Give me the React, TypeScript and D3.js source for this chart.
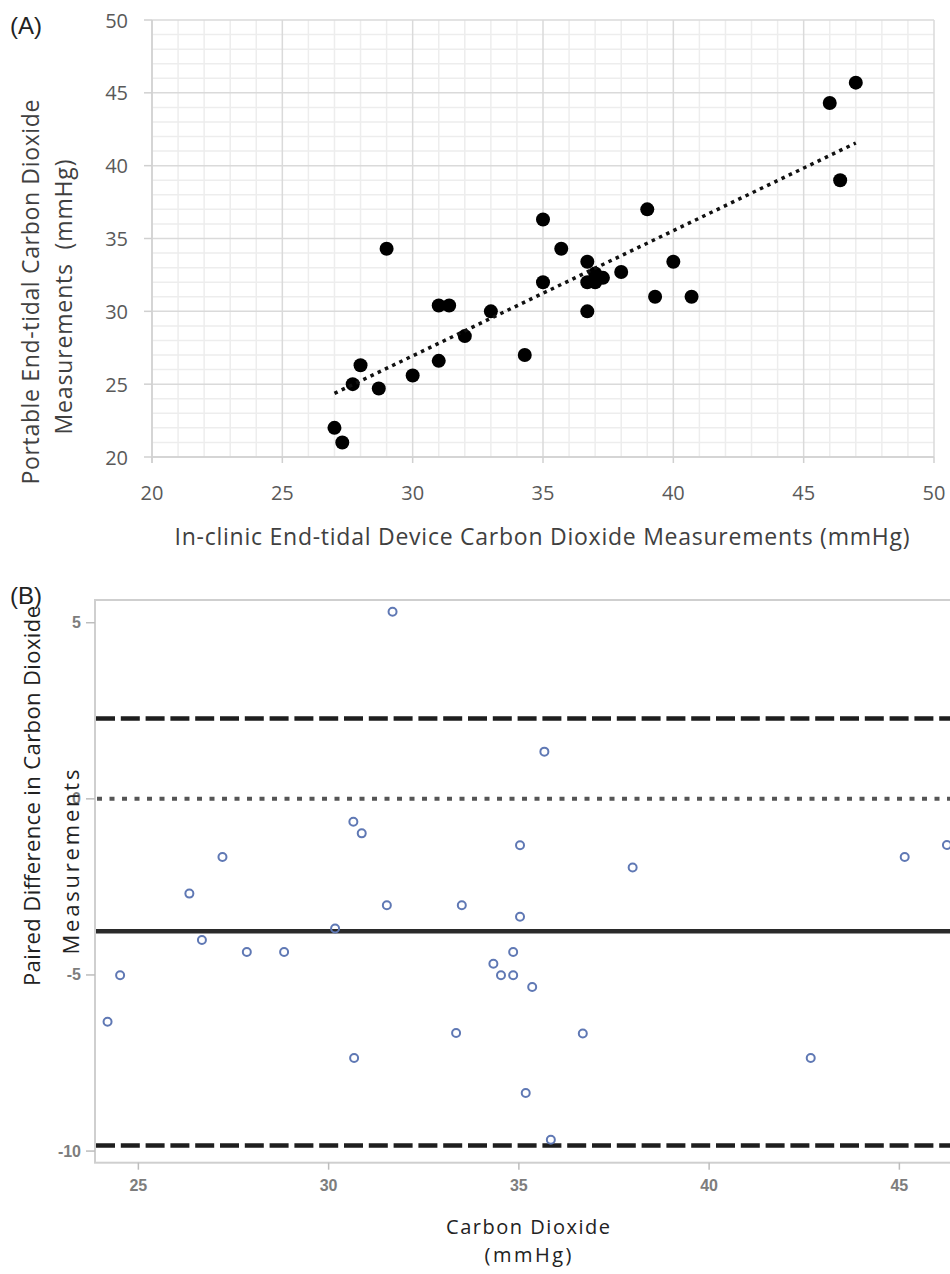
import React from 'react';
import * as d3 from 'd3';

// (A) in-clinic vs portable end-tidal CO2 (mmHg)
const inClinic = [27.0, 27.3, 27.7, 28.0, 28.7, 29.0, 30.0, 31.0, 31.4, 31.0, 32.0, 33.0, 34.3, 35.0, 35.0, 35.7, 36.7, 36.7, 36.7, 37.0, 37.0, 37.3, 38.0, 39.0, 39.3, 40.0, 40.7, 46.0, 46.4, 47.0];
const portable = [22.0, 21.0, 25.0, 26.3, 24.7, 34.3, 25.6, 30.4, 30.4, 26.6, 28.3, 30.0, 27.0, 36.3, 32.0, 34.3, 33.4, 32.0, 30.0, 32.6, 32.0, 32.3, 32.7, 37.0, 31.0, 33.4, 31.0, 44.3, 39.0, 45.7];
const ticksA = [20, 25, 30, 35, 40, 45, 50];

// (B) Bland-Altman: mean of the two devices vs paired difference
const meanCO2 = [31.68, 30.65, 30.87, 27.21, 35.67, 35.03, 37.99, 45.14, 46.25, 26.34, 31.53, 33.5, 30.17, 26.67, 27.85, 28.83, 24.52, 24.19, 30.67, 33.35, 35.03, 34.85, 34.33, 34.53, 34.85, 35.35, 36.68, 42.67, 35.18, 35.84];
const pairedDiff = [5.31, -0.65, -0.98, -1.65, 1.34, -1.32, -1.95, -1.65, -1.31, -2.69, -3.02, -3.02, -3.68, -4.01, -4.35, -4.35, -5.01, -6.33, -7.36, -6.65, -3.35, -4.35, -4.68, -5.01, -5.01, -5.34, -6.66, -7.36, -8.35, -9.68];
const xTicksB = [25, 30, 35, 40, 45];
const yTicksB = [5, 0, -5, -10];
const limitsB = [2.28, -9.84]; // limits of agreement
const biasB = [-3.76];
const zeroB = [0];

const titleFont = '"Open Sans", sans-serif';
const armFont = '"Liberation Sans", Arial, sans-serif';

function PanelA() {
  const x = d3.scaleLinear().domain([20, 50]).range([152, 934]);
  const y = d3.scaleLinear().domain([20, 50]).range([457, 20]);
  const minor = d3.range(20, 51, 1).filter((v) => v % 5 !== 0);

  // least squares trend line
  const mx = d3.mean(inClinic)!;
  const my = d3.mean(portable)!;
  const sxy = d3.sum(inClinic, (v, i) => (v - mx) * (portable[i] - my));
  const sxx = d3.sum(inClinic, (v) => (v - mx) * (v - mx));
  const slope = sxy / sxx;
  const icpt = my - slope * mx;
  const [x0, x1] = d3.extent(inClinic) as [number, number];

  return (
    <g>
      <text x={10} y={34} fontFamily={armFont} fontSize={24} fill="#222">(A)</text>
      {minor.map((v) => (
        <g key={'m' + v}>
          <line x1={x(v)} x2={x(v)} y1={y(20)} y2={y(50)} stroke="#ededed" strokeWidth={1.5} />
          <line x1={x(20)} x2={x(50)} y1={y(v)} y2={y(v)} stroke="#ededed" strokeWidth={1.5} />
        </g>
      ))}
      {ticksA.map((v) => (
        <g key={'g' + v}>
          <line x1={x(v)} x2={x(v)} y1={y(20)} y2={y(50)} stroke="#dadada" strokeWidth={1.5} />
          <line x1={x(20)} x2={x(50)} y1={y(v)} y2={y(v)} stroke="#dadada" strokeWidth={1.5} />
          <line x1={x(v)} x2={x(v)} y1={y(20)} y2={y(20) + 6} stroke="#d0d0d0" strokeWidth={1.5} />
          <line x1={x(20) - 8} x2={x(20)} y1={y(v)} y2={y(v)} stroke="#d0d0d0" strokeWidth={1.5} />
          <text x={x(v)} y={492} textAnchor="middle" dominantBaseline="central" fontFamily={titleFont} fontSize={20} fill="#595959">{v}</text>
          <text x={128} y={y(v)} textAnchor="end" dominantBaseline="central" fontFamily={titleFont} fontSize={20} fill="#595959">{v}</text>
        </g>
      ))}
      <line x1={x(20)} x2={x(20)} y1={y(50)} y2={y(20) + 6} stroke="#d0d0d0" strokeWidth={1.5} />
      <line x1={x(20)} x2={x(50)} y1={y(20)} y2={y(20)} stroke="#d0d0d0" strokeWidth={1.5} />
      {inClinic.map((v, i) => (
        <circle key={'p' + i} cx={x(v)} cy={y(portable[i])} r={7} fill="#000" />
      ))}
      <line x1={x(x0)} y1={y(icpt + slope * x0)} x2={x(x1)} y2={y(icpt + slope * x1)} stroke="#111" strokeWidth={3.5} strokeDasharray="3.5 4.5" />
      <text x={542} y={536} textAnchor="middle" dominantBaseline="central" fontFamily={titleFont} fontSize={23} fill="#404040" textLength={735}>In-clinic End-tidal Device Carbon Dioxide Measurements (mmHg)</text>
      <text transform="translate(30,292) rotate(-90)" textAnchor="middle" dominantBaseline="central" fontFamily={titleFont} fontSize={23} fill="#404040" textLength={385}>Portable End-tidal Carbon Dioxide</text>
      <text transform="translate(63,297) rotate(-90)" textAnchor="middle" dominantBaseline="central" fontFamily={titleFont} fontSize={23} fill="#404040" textLength={275} xmlSpace="preserve">Measurements  (mmHg)</text>
    </g>
  );
}

function PanelB() {
  const x = d3.scaleLinear().domain([23.86, 47.5]).range([95, 994.5]);
  const y = d3.scaleLinear().domain([-10.33, 5.645]).range([1162.7, 600]);
  const left = x.range()[0];
  const right = x.range()[1];

  return (
    <g>
      <text x={10} y={604} fontFamily={armFont} fontSize={24} fill="#222">(B)</text>
      <rect x={left} y={y(5.645)} width={right - left} height={y(-10.33) - y(5.645)} fill="none" stroke="#cfcfcf" strokeWidth={2} />
      {yTicksB.map((v) => (
        <g key={'y' + v}>
          <line x1={left - 9} x2={left} y1={y(v)} y2={y(v)} stroke="#bdbdbd" strokeWidth={1.5} />
          <text x={81} y={y(v)} textAnchor="end" dominantBaseline="central" fontFamily={armFont} fontWeight="bold" fontSize={16} fill="#7d7d7d">{v}</text>
        </g>
      ))}
      {xTicksB.map((v) => (
        <g key={'x' + v}>
          <line x1={x(v)} x2={x(v)} y1={y(-10.33)} y2={y(-10.33) + 7} stroke="#bdbdbd" strokeWidth={1.5} />
          <text x={x(v)} y={1185} textAnchor="middle" dominantBaseline="central" fontFamily={armFont} fontWeight="bold" fontSize={16} fill="#7d7d7d">{v}</text>
        </g>
      ))}
      {zeroB.map((v) => (
        <line key={'z' + v} x1={left + 2} x2={right} y1={y(v)} y2={y(v)} stroke="#555" strokeWidth={4} strokeDasharray="5 7.5" />
      ))}
      {limitsB.map((v) => (
        <line key={'l' + v} x1={left + 1} x2={right} y1={y(v)} y2={y(v)} stroke="#1e1e1e" strokeWidth={4.5} strokeDasharray="19 5.8" />
      ))}
      {biasB.map((v) => (
        <line key={'b' + v} x1={left + 1} x2={right} y1={y(v)} y2={y(v)} stroke="#2a2a2a" strokeWidth={4.5} />
      ))}
      {meanCO2.map((v, i) => (
        <circle key={'c' + i} cx={x(v)} cy={y(pairedDiff[i])} r={4} fill="none" stroke="#5f78b4" strokeWidth={2} />
      ))}
      <text x={528} y={1226} textAnchor="middle" dominantBaseline="central" fontFamily={titleFont} fontSize={20} fill="#222" textLength={164}>Carbon Dioxide</text>
      <text x={528} y={1254} textAnchor="middle" dominantBaseline="central" fontFamily={titleFont} fontSize={20} fill="#222" textLength={87}>(mmHg)</text>
      <text transform="translate(31,796) rotate(-90)" textAnchor="middle" dominantBaseline="central" fontFamily={titleFont} fontSize={22} fill="#222" textLength={380}>Paired Difference in Carbon Dioxide</text>
      <text transform="translate(70,862) rotate(-90)" textAnchor="middle" dominantBaseline="central" fontFamily={titleFont} fontSize={22} fill="#222" textLength={185}>Measurements</text>
    </g>
  );
}

export default function App() {
  return (
    <svg width={950} height={1274} style={{ position: 'absolute', left: 0, top: 0, background: '#fff' }}>
      <rect width={950} height={1274} fill="#fff" />
      <PanelA />
      <PanelB />
    </svg>
  );
}
